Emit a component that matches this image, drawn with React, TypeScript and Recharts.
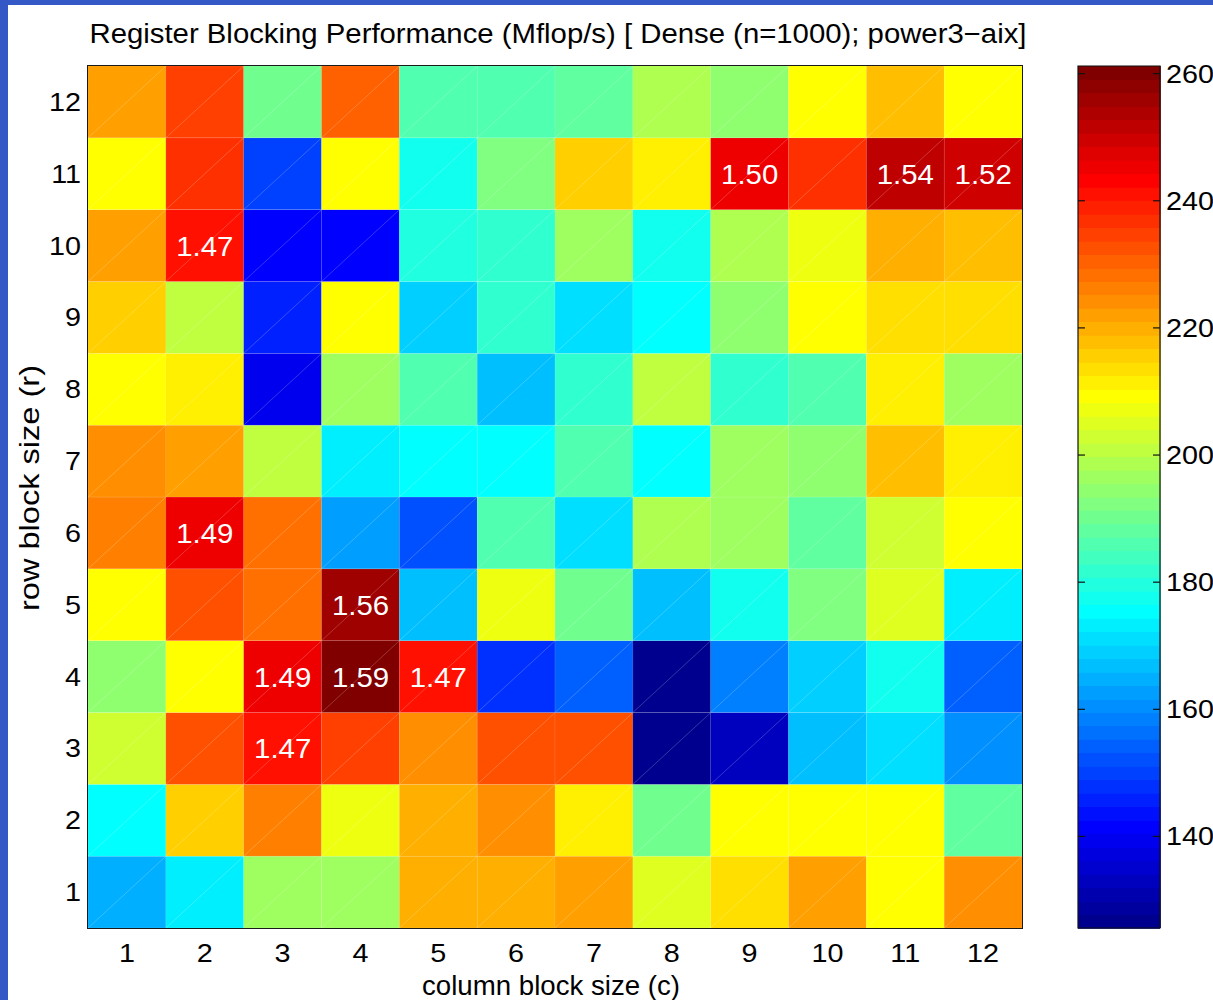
import React from 'react';
import {
  BarChart,
  Bar,
  XAxis,
  YAxis,
  ComposedChart,
  ReferenceArea,
  ReferenceLine,
} from 'recharts';

const colSizes = [1, 2, 3, 4, 5, 6, 7, 8, 9, 10, 11, 12];
const rowSizes = [1, 2, 3, 4, 5, 6, 7, 8, 9, 10, 11, 12];

// Mflop/s for an r x c register block: mflops[r - 1][c - 1]
const mflops = [
  [164.0, 173.1, 196.4, 196.4, 219.7, 219.7, 221.8, 204.9, 213.4, 221.8, 209.1, 224.0],
  [175.2, 215.5, 226.1, 207.0, 219.7, 224.0, 211.2, 190.0, 209.1, 209.1, 209.1, 187.9],
  [202.7, 232.5, 241.1, 234.6, 224.0, 232.5, 232.5, 125.6, 132.9, 166.8, 171.0, 160.4],
  [194.3, 209.1, 244.4, 261.2, 241.1, 147.7, 154.1, 127.0, 158.3, 168.9, 177.3, 154.1],
  [209.1, 232.5, 228.2, 255.8, 166.8, 207.0, 190.0, 166.8, 177.3, 192.2, 204.9, 173.1],
  [226.1, 244.4, 228.2, 162.5, 151.9, 185.8, 171.0, 198.5, 196.4, 187.9, 202.7, 209.1],
  [224.0, 221.8, 200.6, 173.1, 175.2, 175.2, 185.8, 175.2, 196.4, 194.3, 217.6, 211.2],
  [209.1, 211.2, 139.3, 196.4, 185.8, 166.8, 181.6, 200.6, 181.6, 185.8, 211.2, 196.4],
  [215.5, 200.6, 145.6, 209.1, 168.9, 181.6, 171.0, 175.2, 194.3, 209.1, 213.4, 213.4],
  [221.8, 241.1, 141.4, 141.4, 179.5, 181.6, 196.4, 177.3, 198.5, 207.0, 219.7, 217.6],
  [209.1, 236.7, 149.8, 209.1, 177.3, 192.2, 215.5, 211.2, 246.0, 236.7, 252.6, 249.3],
  [221.8, 234.6, 190.0, 230.3, 185.8, 185.8, 187.9, 198.5, 194.3, 209.1, 217.6, 209.1],
];

const colorbarTicks = [140, 160, 180, 200, 220, 240, 260];

// blocks at least this much faster than 1x1 get their speedup printed
const speedupCutoff = 1.465;

const FONT = '"Liberation Sans", Arial, Helvetica, sans-serif';
const TICK_SIZE = 25;
const TICK_SX = 1.15;

const allValues = mflops.flat();
const vmin = Math.min(...allValues);
const vmax = Math.max(...allValues);
const baseline = mflops[0][0];

// matlab jet(64)
const ramp = (k: number) => (k < 1 || k > 47 ? 0 : k <= 16 ? k / 16 : k <= 31 ? 1 : (48 - k) / 16);
const jetLevel = (i: number) => {
  const to255 = (f: number) => Math.round(f * 255);
  return `rgb(${to255(ramp(i - 24))},${to255(ramp(i - 8))},${to255(ramp(i + 8))})`;
};
const levelOf = (v: number) => Math.min(64, Math.floor(((v - vmin) / (vmax - vmin)) * 64) + 1);
const colorOf = (v: number) => jetLevel(levelOf(v));

// one entry per column block size, each row block is a unit-height stacked segment
const table = colSizes.map((c) => {
  const entry: Record<string, number> = { c };
  rowSizes.forEach((r) => {
    entry[`r${r}`] = 1;
  });
  return entry;
});

const bandStep = (vmax - vmin) / 64;
const bands = Array.from({ length: 64 }, (_, i) => ({
  lo: vmin + i * bandStep,
  hi: vmin + (i + 1) * bandStep,
  fill: jetLevel(i + 1),
}));

const HeatCell = (props: any) => {
  const { x, y, width, height, payload, row } = props;
  const value = mflops[row - 1][payload.c - 1];
  const speedup = value / baseline;
  return (
    <g>
      <rect x={x} y={y} width={width} height={height} fill={colorOf(value)} stroke="rgba(255,255,255,0.18)" strokeWidth={0.6} />
      <line x1={x} y1={y + height} x2={x + width} y2={y} stroke="rgba(255,255,255,0.35)" strokeWidth={0.6} />
      {speedup >= speedupCutoff && (
        <text
          transform={`translate(${x + width / 2},${y + height / 2 + 10}) scale(1.05,1)`}
          textAnchor="middle"
          fontSize={28}
          fontFamily={FONT}
          fill="#fff"
        >
          {speedup.toFixed(2)}
        </text>
      )}
    </g>
  );
};

const XTick = ({ x, y, payload }: any) => (
  <text
    transform={`translate(${x},${y + 26}) scale(${TICK_SX},1)`}
    textAnchor="middle"
    fontSize={TICK_SIZE}
    fontFamily={FONT}
    fill="#000"
  >
    {payload.value}
  </text>
);

const YTick = ({ x, y, payload }: any) => (
  <text
    transform={`translate(${x + 1},${y + 9}) scale(${TICK_SX},1)`}
    textAnchor="end"
    fontSize={TICK_SIZE}
    fontFamily={FONT}
    fill="#000"
  >
    {payload.value + 0.5}
  </text>
);

const BarTick = ({ x, y, payload }: any) => (
  <text
    transform={`translate(${x - 2},${y + 9}) scale(${TICK_SX},1)`}
    textAnchor="start"
    fontSize={TICK_SIZE}
    fontFamily={FONT}
    fill="#000"
  >
    {payload.value}
  </text>
);

const Colorbar = () => (
  <ComposedChart
    width={173}
    height={1000}
    data={[{ x: 0 }, { x: 1 }]}
    margin={{ top: 66, right: 0, bottom: 72, left: 38 }}
  >
    <XAxis dataKey="x" type="number" domain={[0, 1]} hide />
    <YAxis
      orientation="right"
      type="number"
      domain={[vmin, vmax]}
      ticks={colorbarTicks}
      allowDataOverflow
      axisLine={false}
      tickLine={false}
      tick={<BarTick />}
      width={53}
    />
    {bands.map((b, i) => (
      <ReferenceArea
        key={i}
        x1={0}
        x2={1}
        y1={b.lo}
        y2={b.hi}
        fill={b.fill}
        fillOpacity={1}
        stroke={b.fill}
        strokeWidth={0.8}
        shapeRendering="crispEdges"
      />
    ))}
    {colorbarTicks.map((t) => (
      <ReferenceLine key={`l${t}`} segment={[{ x: 0, y: t }, { x: 0.085, y: t }]} stroke="#111" strokeWidth={1.2} />
    ))}
    {colorbarTicks.map((t) => (
      <ReferenceLine key={`r${t}`} segment={[{ x: 0.915, y: t }, { x: 1, y: t }]} stroke="#111" strokeWidth={1.2} />
    ))}
    <ReferenceArea x1={0} x2={1} y1={vmin} y2={vmax} fill="none" fillOpacity={0} stroke="#111" strokeWidth={1.2} />
  </ComposedChart>
);

export default function App() {
  return (
    <div
      style={{
        position: 'absolute',
        left: 0,
        top: 0,
        width: 1213,
        height: 1000,
        background: '#3459c6',
        overflow: 'hidden',
        fontFamily: FONT,
      }}
    >
      <div style={{ position: 'absolute', left: 8, top: 5, width: 1205, height: 995, background: '#fff' }} />

      <div style={{ position: 'absolute', left: 0, top: 0 }}>
        <BarChart
          width={1060}
          height={1000}
          data={table}
          margin={{ top: 66, right: 38, bottom: 0, left: 28 }}
          barCategoryGap={0}
          barGap={0}
        >
          <XAxis
            dataKey="c"
            type="category"
            interval={0}
            axisLine={false}
            tickLine={false}
            tick={<XTick />}
            height={72}
          />
          <YAxis
            type="number"
            domain={[0, 12]}
            ticks={rowSizes.map((r) => r - 0.5)}
            allowDataOverflow
            axisLine={false}
            tickLine={false}
            tick={<YTick />}
            width={60}
          />
          {rowSizes.map((r) => (
            <Bar
              key={r}
              dataKey={`r${r}`}
              stackId="blocks"
              isAnimationActive={false}
              shape={(p: any) => <HeatCell {...p} row={r} />}
            />
          ))}
        </BarChart>
      </div>

      {/* axes box */}
      <div
        style={{
          position: 'absolute',
          left: 87,
          top: 65,
          width: 936,
          height: 864,
          border: '1px solid #1a1a1a',
          boxSizing: 'border-box',
          pointerEvents: 'none',
        }}
      />

      <div style={{ position: 'absolute', left: 1040, top: 0 }}>
        <Colorbar />
      </div>

      <svg
        width={1213}
        height={1000}
        style={{ position: 'absolute', left: 0, top: 0, pointerEvents: 'none' }}
        fontFamily={FONT}
      >
        <text x={558} y={43} textAnchor="middle" fontSize={27} textLength={937} lengthAdjust="spacingAndGlyphs" fill="#000">
          Register Blocking Performance (Mflop/s) [ Dense (n=1000); power3−aix]
        </text>
        <text x={551} y={995} textAnchor="middle" fontSize={27} textLength={258} lengthAdjust="spacingAndGlyphs" fill="#000">
          column block size (c)
        </text>
        <text
          transform="translate(39,488) rotate(-90)"
          textAnchor="middle"
          fontSize={27}
          textLength={246}
          lengthAdjust="spacingAndGlyphs"
          fill="#000"
        >
          row block size (r)
        </text>
      </svg>
    </div>
  );
}
